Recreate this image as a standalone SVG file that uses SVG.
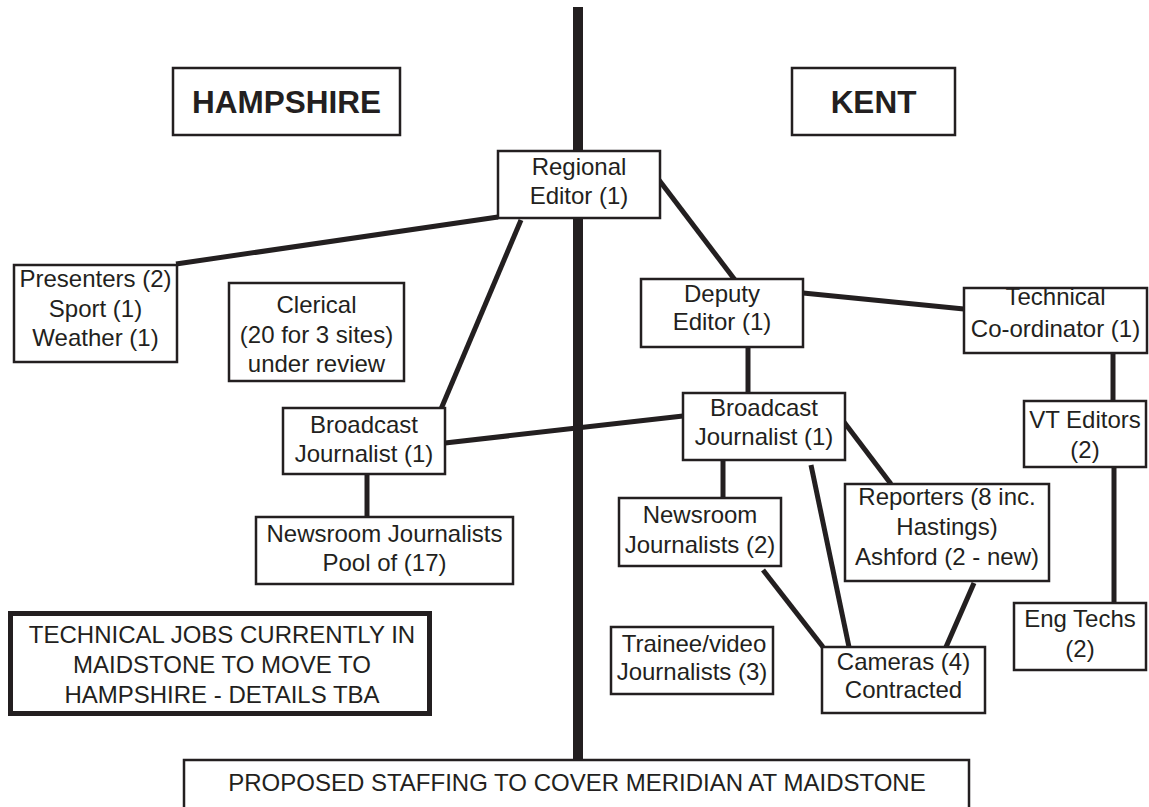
<svg xmlns="http://www.w3.org/2000/svg" width="1149" height="807" viewBox="0 0 1149 807">
<style>
.box{fill:#fff;stroke:#231f20;stroke-width:2.5}
.thick{fill:#fff;stroke:#231f20;stroke-width:5}
.t{font-family:"Liberation Sans",Arial,Helvetica,sans-serif;font-size:24px;fill:#231f20;text-anchor:middle}
.b{font-family:"Liberation Sans",Arial,Helvetica,sans-serif;font-size:31.5px;font-weight:bold;fill:#231f20;text-anchor:middle}
.c{stroke:#231f20;stroke-width:5;fill:none}
.div{stroke:#231f20;stroke-width:10;fill:none}
</style>
<rect width="1149" height="807" fill="#fff"/>
<g id="divider"><line class="div" x1="578" y1="7" x2="578" y2="760"/></g>
<g id="connectors">
<line class="c" x1="498" y1="217" x2="176" y2="264"/>
<line class="c" x1="521" y1="220" x2="441" y2="409"/>
<line class="c" x1="659" y1="180" x2="735" y2="280"/>
<line class="c" x1="445" y1="443" x2="683" y2="416"/>
<line class="c" x1="367" y1="474" x2="367" y2="517"/>
<line class="c" x1="803" y1="293" x2="964" y2="309"/>
<line class="c" x1="748" y1="347" x2="748" y2="393"/>
<line class="c" x1="1113" y1="353" x2="1113" y2="401"/>
<line class="c" x1="1114" y1="467" x2="1114" y2="603"/>
<line class="c" x1="723" y1="460" x2="723" y2="498"/>
<line class="c" x1="844" y1="422" x2="891" y2="484"/>
<line class="c" x1="811" y1="465" x2="849" y2="647"/>
<line class="c" x1="763" y1="570" x2="823" y2="647"/>
<line class="c" x1="974" y1="583" x2="946" y2="647"/>
</g>
<g id="hampshire"><rect class="box" x="173" y="68" width="227" height="67"/><text class="b" x="286.5" y="113">HAMPSHIRE</text></g>
<g id="kent"><rect class="box" x="792" y="68" width="163" height="67"/><text class="b" x="873.5" y="113">KENT</text></g>
<g id="regional-editor"><rect class="box" x="498" y="151" width="162" height="67"/><text class="t" x="579" y="175">Regional</text><text class="t" x="579" y="204">Editor (1)</text></g>
<g id="presenters"><rect class="box" x="14" y="265" width="163" height="97"/><text class="t" x="95.5" y="287">Presenters (2)</text><text class="t" x="95.5" y="317">Sport (1)</text><text class="t" x="95.5" y="346">Weather (1)</text></g>
<g id="clerical"><rect class="box" x="229" y="283" width="175" height="98"/><text class="t" x="316.5" y="313">Clerical</text><text class="t" x="316.5" y="343">(20 for 3 sites)</text><text class="t" x="316.5" y="372">under review</text></g>
<g id="hampshire-bj"><rect class="box" x="283" y="408" width="162" height="66"/><text class="t" x="364" y="433">Broadcast</text><text class="t" x="364" y="462">Journalist (1)</text></g>
<g id="newsroom-pool"><rect class="box" x="256" y="517" width="257" height="67"/><text class="t" x="384.5" y="542">Newsroom Journalists</text><text class="t" x="384.5" y="571">Pool of (17)</text></g>
<g id="technical-jobs"><rect class="thick" x="10.5" y="613.5" width="419" height="100"/><text class="t" x="222" y="643">TECHNICAL JOBS CURRENTLY IN</text><text class="t" x="222" y="673">MAIDSTONE TO MOVE TO</text><text class="t" x="222" y="703">HAMPSHIRE - DETAILS TBA</text></g>
<g id="deputy-editor"><rect class="box" x="641" y="279" width="162" height="68"/><text class="t" x="722" y="302">Deputy</text><text class="t" x="722" y="330">Editor (1)</text></g>
<g id="technical-coordinator"><rect class="box" x="964" y="288" width="183" height="65"/><text class="t" x="1055.5" y="305">Technical</text><text class="t" x="1055.5" y="337">Co-ordinator (1)</text></g>
<g id="kent-bj"><rect class="box" x="683" y="393" width="162" height="67"/><text class="t" x="764" y="416">Broadcast</text><text class="t" x="764" y="445">Journalist (1)</text></g>
<g id="vt-editors"><rect class="box" x="1024" y="401" width="122" height="66"/><text class="t" x="1085" y="428">VT Editors</text><text class="t" x="1085" y="458">(2)</text></g>
<g id="newsroom-2"><rect class="box" x="619" y="498" width="162" height="68"/><text class="t" x="700" y="523">Newsroom</text><text class="t" x="700" y="553">Journalists (2)</text></g>
<g id="reporters"><rect class="box" x="845" y="484" width="204" height="97"/><text class="t" x="947" y="505">Reporters (8 inc.</text><text class="t" x="947" y="535">Hastings)</text><text class="t" x="947" y="565">Ashford (2 - new)</text></g>
<g id="eng-techs"><rect class="box" x="1014" y="603" width="132" height="67"/><text class="t" x="1080" y="627">Eng Techs</text><text class="t" x="1080" y="657">(2)</text></g>
<g id="trainee"><rect class="box" x="611" y="627" width="162" height="67"/><text class="t" x="694" y="652">Trainee/video</text><text class="t" x="692" y="680">Journalists (3)</text></g>
<g id="cameras"><rect class="box" x="822" y="647" width="163" height="66"/><text class="t" x="903.5" y="670">Cameras (4)</text><text class="t" x="903.5" y="698">Contracted</text></g>
<g id="proposed"><rect class="box" x="184" y="760" width="785" height="60"/><text class="t" x="577" y="791">PROPOSED STAFFING TO COVER MERIDIAN AT MAIDSTONE</text></g>
</svg>
